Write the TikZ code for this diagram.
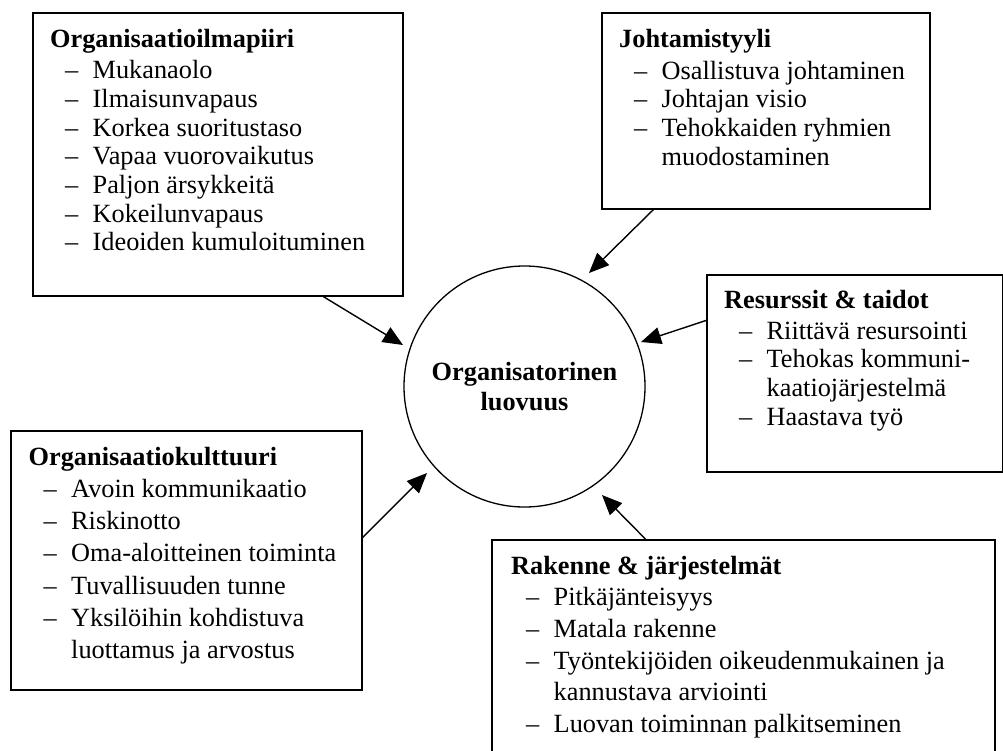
\documentclass[tikz,border=0pt]{standalone}
\usepackage{fontspec}
\setmainfont{Liberation Serif}
\usetikzlibrary{arrows.meta,calc}
\newcommand\itm[1]{\hspace*{15pt}\makebox[27.5pt][l]{–}#1}
\newcommand\cnt[1]{\hspace*{42.5pt}#1}
\tikzset{
  box/.style={draw, line width=1.6pt, rectangle, inner sep=0pt, anchor=north west},
  txt/.style={inner sep=0pt, anchor=base west},
  arr/.style={line width=1.4pt, -{Triangle[length=20pt,width=17pt]}},
}
\begin{document}
\begin{tikzpicture}[x=1pt,y=-1pt]
\useasboundingbox (0,0) rectangle (1003,750);
\clip (0,0) rectangle (1003,750);
\fill[white] (0,0) rectangle (1003,750);

% boxes
\node[box, minimum width=370pt, minimum height=283pt] (b1) at (32,12) {};
\node[box, minimum width=328pt, minimum height=196pt] (b2) at (601,12) {};
\node[box, minimum width=295.5pt, minimum height=197pt] (b3) at (706,274) {};
\node[box, minimum width=351pt, minimum height=259pt] (b4) at (10,430) {};
\node[box, minimum width=503pt, minimum height=260pt] (b5) at (491,539) {};

% circle
\node[circle, draw, line width=1.3pt, minimum size=241pt, inner sep=0pt, align=center,
      font=\fontsize{26.3}{30}\selectfont\bfseries] (c) at (524.5,386.5) {Organisatorinen\\luovuus};

% texts
\node[txt] (t1) at (50,47.7) {\parbox[t]{345pt}{\fontsize{26.3}{28.7}\selectfont
  \textbf{Organisaatioilmapiiri}\\[2.3pt]
  \itm{Mukanaolo}\\
  \itm{Ilmaisunvapaus}\\
  \itm{Korkea suoritustaso}\\
  \itm{Vapaa vuorovaikutus}\\
  \itm{Paljon ärsykkeitä}\\
  \itm{Kokeilunvapaus}\\
  \itm{Ideoiden kumuloituminen}}};

\node[txt] (t2) at (619,47) {\parbox[t]{300pt}{\fontsize{26.3}{28.7}\selectfont
  \textbf{Johtamistyyli}\\[3.3pt]
  \itm{Osallistuva johtaminen}\\
  \itm{Johtajan visio}\\
  \itm{Tehokkaiden ryhmien}\\
  \cnt{muodostaminen}}};

\node[txt] (t3) at (724,308) {\parbox[t]{275pt}{\fontsize{26.3}{28.7}\selectfont
  \textbf{Resurssit \& taidot}\\[2.3pt]
  \itm{Riittävä resursointi}\\
  \itm{Tehokas kommuni-}\\
  \cnt{kaatiojärjestelmä}\\
  \itm{Haastava työ}}};

\node[txt] (t4) at (28.5,465) {\parbox[t]{330pt}{\fontsize{26.3}{32.3}\selectfont
  \textbf{Organisaatiokulttuuri}\\
  \itm{Avoin kommunikaatio}\\
  \itm{Riskinotto}\\
  \itm{Oma-aloitteinen toiminta}\\
  \itm{Tuvallisuuden tunne}\\
  \itm{Yksilöihin kohdistuva}\\
  \cnt{luottamus ja arvostus}}};

\node[txt] (t5) at (511,574) {\parbox[t]{480pt}{\fontsize{26.3}{31.7}\selectfont
  \textbf{Rakenne \& järjestelmät}\\
  \itm{Pitkäjänteisyys}\\
  \itm{Matala rakenne}\\
  \itm{Työntekijöiden oikeudenmukainen ja}\\
  \cnt{kannustava arviointi}\\
  \itm{Luovan toiminnan palkitseminen}}};

% connectors
\draw[arr] ($(b1.south west)!0.784!(b1.south east)$) -- ($(c.center)+(-121.5,-41.5)$);
\draw[arr] ($(b2.south west)!0.159!(b2.south east)$) -- ($(c.center)+(64.5,-113.5)$);
\draw[arr] ($(b3.north west)!0.234!(b3.south west)$) -- ($(c.center)+(116.5,-44.5)$);
\draw[arr] ($(b4.north east)!0.413!(b4.south east)$) -- ($(c.center)+(-97.5,86.5)$);
\draw[arr] ($(b5.north west)!0.306!(b5.north east)$) -- ($(c.center)+(77.5,108.5)$);
\end{tikzpicture}
\end{document}
